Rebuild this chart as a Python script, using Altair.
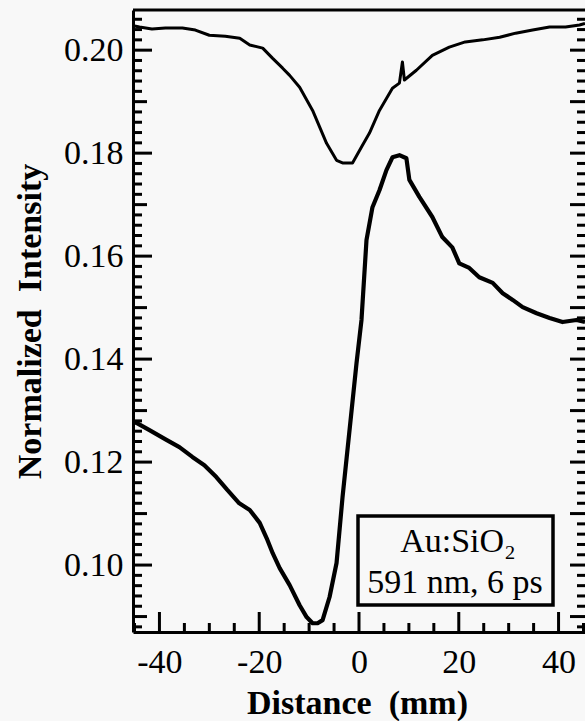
import altair as alt
import pandas as pd

# ---- data ----
upper_x = [-45.0, -44.0, -41.5, -38.8, -35.4, -32.8, -30.0, -26.8, -23.9, -21.9,
           -19.3, -17.3, -15.3, -13.9, -11.9, -9.3, -6.5, -4.5, -3.3, -1.3,
           0.5, 2.1, 4.1, 6.7, 8.1, 8.7, 9.1, 11.5, 14.7, 18.1,
           21.3, 24.8, 28.2, 31.4, 34.8, 38.2, 41.4, 44.2, 45.3]
upper_y = [0.2047, 0.2045, 0.2041, 0.2043, 0.2043, 0.2039, 0.2029, 0.2027, 0.2023, 0.2010,
           0.2004, 0.1984, 0.1965, 0.1951, 0.1928, 0.1883, 0.1819, 0.1786, 0.1781, 0.1781,
           0.1812, 0.1839, 0.1883, 0.1926, 0.1936, 0.1977, 0.1942, 0.1961, 0.1990, 0.2006,
           0.2016, 0.2020, 0.2025, 0.2033, 0.2039, 0.2045, 0.2045, 0.2049, 0.2052]

lower_x = [-45.3, -44.6, -42.0, -38.6, -36.0, -33.4, -31.0, -28.6, -26.4, -24.0,
           -21.9, -19.9, -18.5, -17.3, -15.9, -13.9, -11.9, -10.5, -9.3, -8.3,
           -7.3, -5.9, -4.5, -3.3, -1.9, -0.5, 0.5, 1.5, 2.7, 4.1,
           5.5, 6.7, 8.1, 9.5, 10.1, 12.1, 14.7, 16.7, 18.7, 20.1,
           22.1, 24.1, 26.8, 28.8, 30.8, 32.8, 35.6, 38.2, 40.8, 43.6, 45.3]
lower_y = [0.1278, 0.1276, 0.1262, 0.1243, 0.1229, 0.1210, 0.1194, 0.1171, 0.1146, 0.1120,
           0.1107, 0.1082, 0.1052, 0.1023, 0.0994, 0.0961, 0.0922, 0.0899, 0.0887, 0.0887,
           0.0893, 0.0938, 0.1004, 0.1132, 0.1262, 0.1392, 0.1476, 0.1631, 0.1695, 0.1728,
           0.1767, 0.1792, 0.1796, 0.1790, 0.1748, 0.1715, 0.1676, 0.1637, 0.1617, 0.1586,
           0.1577, 0.1559, 0.1548, 0.1528, 0.1515, 0.1501, 0.1489, 0.1480, 0.1472, 0.1476, 0.1472]

x_major = [-40, -20, 0, 20, 40]
x_minor = [-45, -35, -30, -25, -15, -10, -5, 5, 10, 15, 25, 30, 35, 45]
y_major = [0.10, 0.12, 0.14, 0.16, 0.18, 0.20]
y_mid = [0.09, 0.11, 0.13, 0.15, 0.17, 0.19]
y_all = [round(0.088 + 0.002 * i, 3) for i in range(60)]
y_minor = [v for v in y_all if round(v * 100, 6) != round(v * 100)]
y_tens = [v for v in y_all if round(v * 100, 6) == round(v * 100)]

legend_line1 = "Au:SiO\u2082"
legend_line2 = "591 nm, 6 ps"
x_title = "Distance\u00a0\u00a0(mm)"
y_title = "Normalized\u00a0\u00a0Intensity"

# ---- layout ----
W, H = 452, 622
FONT = "Liberation Serif"
BG = "#f8f8f8"
xscale = alt.Scale(domain=[-45.3, 45.3], nice=False, zero=False)
yscale = alt.Scale(domain=[0.0870, 0.2078], nice=False, zero=False)

x_axis = alt.Axis(values=x_major, labelExpr="'' + datum.value", title=x_title,
                  ticks=False, tickSize=0, grid=False, domain=True,
                  domainColor="black", domainWidth=3,
                  labelFont=FONT, labelFontSize=34, labelColor="black",
                  labelBaseline="alphabetic", labelPadding=40,
                  titleFont=FONT, titleFontSize=34, titleFontWeight="bold",
                  titleColor="black", titleBaseline="alphabetic",
                  titleX=224, titleY=81)
y_axis = alt.Axis(values=y_major, format=".2f", title=y_title,
                  ticks=False, tickSize=0, grid=False, domain=True,
                  domainColor="black", domainWidth=3,
                  labelFont=FONT, labelFontSize=34, labelColor="black",
                  labelBaseline="middle", labelPadding=10,
                  titleFont=FONT, titleFontSize=34, titleFontWeight="bold",
                  titleColor="black", titleBaseline="alphabetic",
                  titleAngle=-90, titleAlign="center",
                  titleX=-93, titleY=311)

curves = pd.concat([
    pd.DataFrame({"x": upper_x, "y": upper_y, "curve": "upper", "i": range(len(upper_x))}),
    pd.DataFrame({"x": lower_x, "y": lower_y, "curve": "lower", "i": range(len(lower_x))}),
])

lines = alt.Chart(curves).mark_line(color="black", clip=True, strokeJoin="round").encode(
    x=alt.X("x:Q", scale=xscale, axis=x_axis, title=x_title),
    y=alt.Y("y:Q", scale=yscale, axis=y_axis, title=y_title),
    detail="curve:N",
    order="i:Q",
    strokeWidth=alt.StrokeWidth("curve:N",
                                scale=alt.Scale(domain=["upper", "lower"], range=[3.0, 4.2]),
                                legend=None),
)


def xticks(vals, length):
    return alt.Chart(pd.DataFrame({"x": vals})).mark_rule(color="black", strokeWidth=3).encode(
        x=alt.X("x:Q", scale=xscale, axis=x_axis, title=x_title),
        y=alt.value(H), y2=alt.value(H - length))


def yticks_left(vals, length):
    return alt.Chart(pd.DataFrame({"y": vals})).mark_rule(color="black", strokeWidth=3).encode(
        y=alt.Y("y:Q", scale=yscale, axis=y_axis, title=y_title),
        x=alt.value(0), x2=alt.value(length))


def yticks_right(vals, length):
    return alt.Chart(pd.DataFrame({"y": vals})).mark_rule(color="black", strokeWidth=3).encode(
        y=alt.Y("y:Q", scale=yscale, axis=y_axis, title=y_title),
        x=alt.value(W - length), x2=alt.value(W))


top_border = alt.Chart(pd.DataFrame({"v": [0]})).mark_rule(color="black", strokeWidth=3).encode(
    x=alt.value(0), x2=alt.value(W), y=alt.value(0))

box = alt.Chart(pd.DataFrame({"v": [0]})).mark_rect(fill=BG, stroke="black", strokeWidth=3.5).encode(
    x=alt.value(225), x2=alt.value(420), y=alt.value(506), y2=alt.value(595))

txt1 = alt.Chart(pd.DataFrame({"t": [legend_line1]})).mark_text(
    font=FONT, fontSize=34, color="black", align="center", baseline="alphabetic").encode(
    text="t:N", x=alt.value(325), y=alt.value(542))
txt2 = alt.Chart(pd.DataFrame({"t": [legend_line2]})).mark_text(
    font=FONT, fontSize=34, color="black", align="center", baseline="alphabetic").encode(
    text="t:N", x=alt.value(322), y=alt.value(583))

chart = alt.layer(
    lines,
    xticks(x_major, 20), xticks(x_minor, 9),
    yticks_left(y_major, 19), yticks_left(y_mid, 14), yticks_left(y_minor, 9),
    yticks_right(y_tens, 15), yticks_right(y_minor, 8),
    top_border, box, txt1, txt2,
).properties(
    width=W, height=H,
    padding={"left": 133, "top": 10, "right": 0, "bottom": 89},
    autosize=alt.AutoSizeParams(type="none"),
).configure(background=BG).configure_view(stroke=None)

chart.save("out.html", embed_options={"renderer": "svg", "actions": False})
